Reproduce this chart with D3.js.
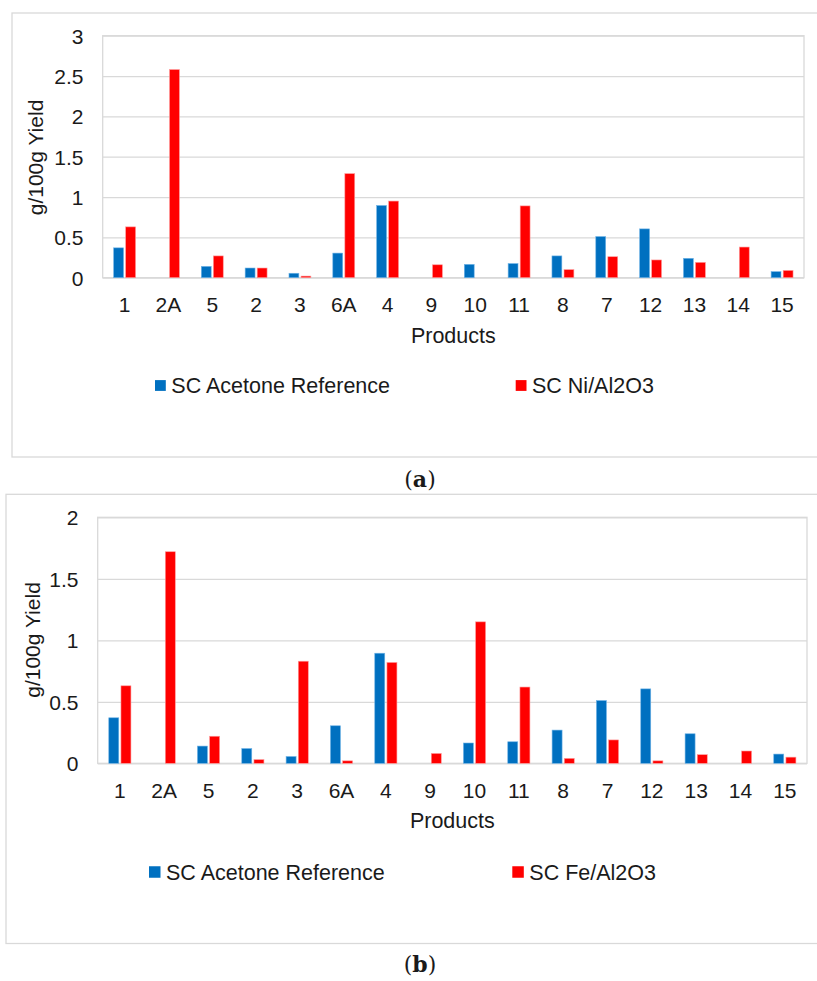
<!DOCTYPE html>
<html>
<head>
<meta charset="utf-8">
<script src="https://cdn.jsdelivr.net/npm/d3@7"></script>
<style>
  body { margin: 0; background: #fff; }
  svg { display: block; }
  text { font-family: "Liberation Sans", Arial, sans-serif; fill: #1a1a1a; }
</style>
</head>
<body>
<svg id="chart" width="817" height="981"></svg>
<script>
// categories (products, in the order shown)
const products = ["1", "2A", "5", "2", "3", "6A", "4", "9", "10", "11", "8", "7", "12", "13", "14", "15"];

// series values, g/100g yield
const acetoneRef = [0.37, 0, 0.14, 0.12, 0.055, 0.305, 0.895, 0, 0.165, 0.175, 0.27, 0.51, 0.605, 0.24, 0, 0.075];
const niAl2O3 = [0.63, 2.58, 0.27, 0.12, 0.02, 1.29, 0.95, 0.16, 0, 0.89, 0.10, 0.26, 0.22, 0.19, 0.38, 0.09];
const feAl2O3 = [0.63, 1.72, 0.22, 0.03, 0.83, 0.02, 0.82, 0.08, 1.15, 0.62, 0.04, 0.19, 0.02, 0.07, 0.10, 0.05];

// tick labels
const ticksA = [0, 0.5, 1, 1.5, 2, 2.5, 3];
const ticksB = [0, 0.5, 1, 1.5, 2];

const seriesNames = ["SC Acetone Reference", "SC Ni/Al2O3", "SC Fe/Al2O3"];

var colors = { blue: "#0070C0", red: "#FF0000", grid: "#d9d9d9" };

const svg = d3.select("#chart");

function drawPanel(cfg) {
  const g = svg.append("g");

  // outer chart frame (runs off the right edge like the source)
  g.append("rect")
    .attr("x", cfg.frame[0]).attr("y", cfg.frame[1])
    .attr("width", 830 - cfg.frame[0]).attr("height", cfg.frame[2] - cfg.frame[1])
    .attr("fill", "none").attr("stroke", colors.grid).attr("stroke-width", 1.3);

  const x0 = d3.scaleBand()
    .domain(products)
    .range([cfg.left, cfg.right])
    .paddingInner(0.5)
    .paddingOuter(0.25);

  const x1 = d3.scaleBand()
    .domain(["ref", "cat"])
    .range([0, x0.bandwidth()])
    .paddingInner(0.18);

  const y = d3.scaleLinear()
    .domain([0, d3.max(cfg.ticks)])
    .range([cfg.bottom, cfg.top]);

  // gridlines + y tick labels
  const yAxis = g.append("g")
    .attr("transform", "translate(" + cfg.left + ",0)")
    .call(d3.axisLeft(y).tickValues(cfg.ticks).tickSize(-(cfg.right - cfg.left)).tickPadding(0).tickFormat(d3.format("")));
  yAxis.select(".domain").remove();
  yAxis.selectAll(".tick line").attr("stroke", colors.grid).attr("stroke-width", 1.3);
  yAxis.selectAll(".tick text")
    .attr("x", cfg.yLabelX - cfg.left)
    .attr("dy", "0.36em")
    .style("font-size", "21px")
    .style("font-family", "Liberation Sans, Arial, sans-serif")
    .attr("fill", "#1a1a1a");

  // plot area border
  g.append("rect")
    .attr("x", cfg.left).attr("y", cfg.top)
    .attr("width", cfg.right - cfg.left).attr("height", cfg.bottom - cfg.top)
    .attr("fill", "none").attr("stroke", colors.grid).attr("stroke-width", 1.3);

  // bars
  const rows = products.map((p, i) => ({ p: p, ref: acetoneRef[i], cat: cfg.values[i] }));
  const grp = g.selectAll(".grp")
    .data(rows)
    .enter().append("g")
    .attr("transform", d => "translate(" + x0(d.p) + ",0)");

  grp.selectAll("rect")
    .data(d => [{ k: "ref", v: d.ref }, { k: "cat", v: d.cat }].filter(e => e.v > 0))
    .enter().append("rect")
    .attr("x", d => x1(d.k))
    .attr("width", x1.bandwidth())
    .attr("y", d => y(d.v))
    .attr("height", d => y(0) - y(d.v))
    .attr("fill", d => d.k == "ref" ? colors.blue : colors.red)
    .attr("stroke", d => d.k == "ref" ? "#6fb3e6" : "#ff9a9a")
    .attr("stroke-width", 0.6);

  // x labels
  const xAxis = g.append("g")
    .attr("transform", "translate(0," + cfg.bottom + ")")
    .call(d3.axisBottom(x0).tickSize(0).tickPadding(0));
  xAxis.select(".domain").remove();
  xAxis.selectAll(".tick text")
    .attr("y", cfg.xLabelY - cfg.bottom)
    .attr("dy", 0)
    .style("font-size", "21px")
    .style("font-family", "Liberation Sans, Arial, sans-serif")
    .attr("fill", "#1a1a1a");

  // axis titles
  g.append("text")
    .attr("x", (cfg.left + cfg.right) / 2)
    .attr("y", cfg.xTitleY)
    .attr("text-anchor", "middle")
    .style("font-size", "21.5px")
    .text("Products");

  g.append("text")
    .attr("transform", "translate(" + cfg.yTitle[0] + "," + cfg.yTitle[1] + ") rotate(-90)")
    .attr("text-anchor", "middle")
    .style("font-size", "21px")
    .text("g/100g Yield");

  // legend
  const leg = cfg.legend;
  [[leg.x[0], colors.blue, seriesNames[0]], [leg.x[1], colors.red, cfg.name]].forEach(function(l) {
    g.append("rect")
      .attr("x", l[0]).attr("y", leg.y - leg.size / 2)
      .attr("width", leg.size).attr("height", leg.size)
      .attr("fill", l[1]);
    g.append("text")
      .attr("x", l[0] + leg.size + 5.5)
      .attr("y", leg.y + 7.5)
      .style("font-size", "21.5px")
      .text(l[2]);
  });

  // caption
  const cap = g.append("text")
    .attr("x", 420)
    .attr("y", cfg.captionY)
    .attr("text-anchor", "middle")
    .style("font-family", "'DejaVu Serif', 'Liberation Serif', serif")
    .style("font-size", "22px");
  cap.append("tspan").text("(");
  cap.append("tspan").style("font-weight", "bold").text(cfg.letter);
  cap.append("tspan").text(")");
}

drawPanel({
  frame: [12, 13, 457],
  left: 102.7, right: 804, top: 35.7, bottom: 277.7,
  ticks: ticksA, values: niAl2O3, name: seriesNames[1],
  yLabelX: 83.5, xLabelY: 312.3, xTitleY: 342.7, yTitle: [42.7, 157.5],
  legend: { x: [155, 515.7], y: 385.5, size: 10.8 },
  captionY: 487, letter: "a"
});

drawPanel({
  frame: [6, 494.3, 943.5],
  left: 97.7, right: 807, top: 517.3, bottom: 763.3,
  ticks: ticksB, values: feAl2O3, name: seriesNames[2],
  yLabelX: 78.5, xLabelY: 798.3, xTitleY: 827.7, yTitle: [39.5, 640],
  legend: { x: [149, 512.3], y: 872, size: 11.5 },
  captionY: 972, letter: "b"
});
</script>
</body>
</html>
